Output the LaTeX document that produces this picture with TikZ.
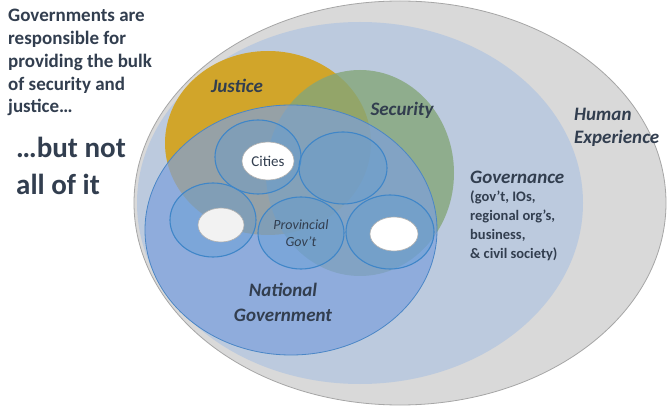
\documentclass[tikz,border=0pt]{standalone}
\usepackage{fontspec}
\setmainfont{Carlito}
\begin{document}
\begin{tikzpicture}[x=1pt,y=-1pt,
  txt/.style={text=textc, inner sep=0pt},
  small/.style={draw=smallb, line width=1.1pt, fill=smallf, fill opacity=0.35, draw opacity=1},
  hole/.style={draw=holeb, line width=0.6pt}]
\definecolor{textc}{HTML}{323E4F}
\definecolor{grayf}{HTML}{D9D9D9}
\definecolor{grayb}{HTML}{A6A6A6}
\definecolor{govf}{HTML}{BCCADE}
\definecolor{justf}{HTML}{D1A52A}
\definecolor{secf}{HTML}{84A679}
\definecolor{natf}{HTML}{7DA0DC}
\definecolor{natb}{HTML}{4A86C6}
\definecolor{smallb}{HTML}{3F86C8}
\definecolor{smallf}{HTML}{5B9BD5}
\definecolor{holeb}{HTML}{B0B0B0}
\useasboundingbox (0,0) rectangle (670,406);
\fill[white] (0,0) rectangle (670,406);
% ellipses
\draw[fill=grayf, draw=grayb, line width=0.8pt] (400,203) ellipse [x radius=266, y radius=202];
\fill[govf] (360,203) ellipse [x radius=223, y radius=181];
\fill[justf] (268,143) ellipse [x radius=103, y radius=92];
\fill[secf, fill opacity=0.8] (360,173) ellipse [x radius=94, y radius=103];
\draw[fill=natf, fill opacity=0.7, draw=natb, line width=0.8pt] (291,230) ellipse [x radius=146, y radius=125];
% small ellipses
\draw[small] (258,157) ellipse [x radius=43, y radius=37];
\draw[small] (343,168) ellipse [x radius=44, y radius=36];
\draw[small] (213,220) ellipse [x radius=43, y radius=37];
\draw[small] (301,233) ellipse [x radius=43, y radius=36];
\draw[small] (390,232) ellipse [x radius=44, y radius=37];
% holes
\draw[hole, fill=white] (268,161) ellipse [x radius=26, y radius=19];
\draw[hole, fill=white!90!gray] (221,225) ellipse [x radius=23, y radius=17];
\draw[hole, fill=white] (394,234) ellipse [x radius=24, y radius=17];
% texts
\node[txt, anchor=north west, align=left, font=\fontsize{19}{22.8}\selectfont\bfseries] (intro) at (8,9)
  {Governments are\\responsible for\\providing the bulk\\of security and\\justice…};
\node[txt, anchor=north west, align=left, font=\fontsize{29}{37}\selectfont\bfseries] (but) at (16,137)
  {…but not\\all of it};
\node[txt, font=\fontsize{19}{23}\selectfont\bfseries\itshape] (just) at (237,86) {Justice};
\node[txt, font=\fontsize{19}{23}\selectfont\bfseries\itshape] (sec) at (402,110) {Security};
\node[txt, align=left, anchor=west, font=\fontsize{19}{23}\selectfont\bfseries\itshape] (hum) at (574,127) {Human\\Experience};
\node[txt, anchor=west, font=\fontsize{19}{23}\selectfont\bfseries\itshape] (gov) at (470,177) {Governance};
\node[txt, anchor=north west, align=left, font=\fontsize{14.5}{19}\selectfont\bfseries] (govsub) at (470,191)
  {(gov’t, IOs,\\regional org’s,\\business,\\\& civil society)};
\node[txt, font=\fontsize{15}{18}\selectfont] (cit) at (268,161) {Cities};
\node[txt, align=center, font=\fontsize{14}{16.7}\selectfont\itshape] (prov) at (301,233) {Provincial\\Gov’t};
\node[txt, align=center, font=\fontsize{19}{25}\selectfont\bfseries\itshape] (nat) at (283,302) {National\\Government};
\end{tikzpicture}
\end{document}
